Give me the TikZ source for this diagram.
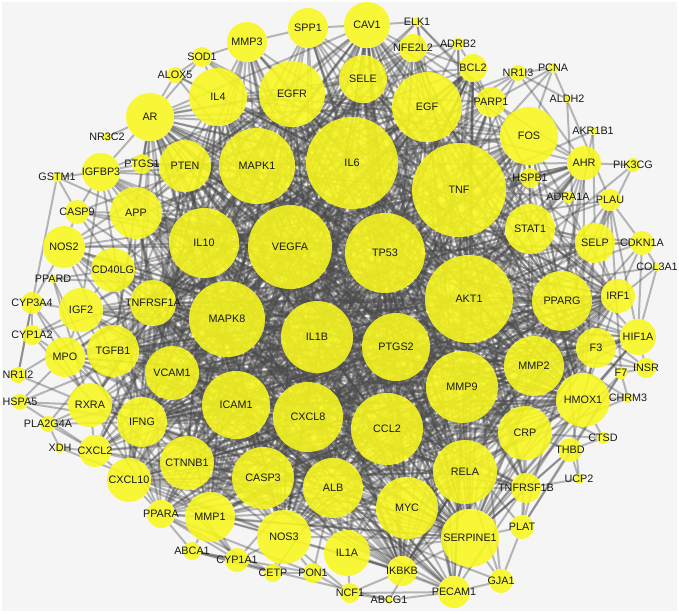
\documentclass[tikz,border=0pt]{standalone}
\usepackage{fontspec}
\setmainfont{Liberation Sans}
\pgfdeclarelayer{bgl}
\pgfdeclarelayer{edgel}
\pgfdeclarelayer{fgl}
\pgfsetlayers{bgl,edgel,main,fgl}
\definecolor{nodeY}{RGB}{248,248,30}
\definecolor{edgeG}{RGB}{75,75,75}
\definecolor{bgG}{RGB}{245,245,245}
\tikzset{
  gn/.style={circle,fill=nodeY,fill opacity=0.88,draw=none,inner sep=0pt},
  lab/.style={font=\fontsize{10.8}{12}\selectfont,text=black!90,inner sep=0pt},
  edge/.style={draw=edgeG,line width=2pt,opacity=0.38}
}
\newcommand\nd[4]{\node[gn,minimum size={2*#4pt}] (#1) at (#2,#3) {};
  \begin{pgfonlayer}{fgl}\node[lab] (#1l) at (#2,#3) {#1};\end{pgfonlayer}}
\def\Alist{IL6,TNF,AKT1,VEGFA,TP53,MAPK1,MAPK8,IL1B,MMP9,CCL2,EGF,IL10,CXCL8,PTGS2,ICAM1,EGFR}
\def\Blist{RELA,CASP3,MYC,ALB,PPARG,MMP2,FOS,IL4,SERPINE1,CRP,VCAM1,CTNNB1,NOS3,HMOX1,PTEN,APP,TGFB1,STAT1,IFNG,MMP1,AR,SELE,CAV1,TNFRSF1A}
\def\Clist{IL1A,CD40LG,IGF2,RXRA,CXCL10,NOS2,SPP1,MMP3,SELP,F3,MPO,IGFBP3,HIF1A,AHR,IRF1,CXCL2,PECAM1,PARP1,TNFRSF1B,IKBKB,BCL2,NFE2L2,PPARA}
\begin{document}
\begin{tikzpicture}[x=1pt,y=-1pt]
\useasboundingbox (0,0) rectangle (679,613);
\begin{pgfonlayer}{bgl}
\fill[white] (0,0) rectangle (679,613);
\fill[bgG] (2,2) rectangle (677,611);
\end{pgfonlayer}
% nodes
\nd{IL6}{352}{163}{46}
\nd{TNF}{459}{190}{47}
\nd{AKT1}{469}{299}{44}
\nd{VEGFA}{290}{247}{42}
\nd{TP53}{385}{253}{40}
\nd{MAPK1}{257}{166}{38}
\nd{MAPK8}{227}{319}{38}
\nd{IL1B}{317}{337}{36}
\nd{MMP9}{462}{387}{36}
\nd{CCL2}{387}{429}{36}
\nd{EGF}{427}{107}{35}
\nd{IL10}{204}{243}{35}
\nd{CXCL8}{308}{417}{35}
\nd{PTGS2}{396}{347}{34}
\nd{ICAM1}{236}{405}{34}
\nd{EGFR}{292}{94}{33}
\nd{RELA}{465}{472}{32}
\nd{CASP3}{263}{478}{31}
\nd{MYC}{407}{508}{31}
\nd{ALB}{333}{488}{30}
\nd{PPARG}{562}{301}{30}
\nd{MMP2}{534}{366}{30}
\nd{FOS}{529}{136}{29}
\nd{IL4}{218}{97}{29}
\nd{SERPINE1}{470}{538}{29}
\nd{CRP}{525}{433}{27}
\nd{VCAM1}{172}{373}{27}
\nd{CTNNB1}{187}{463}{27}
\nd{NOS3}{284}{537}{27}
\nd{HMOX1}{583}{400}{27}
\nd{PTEN}{185}{166}{26}
\nd{APP}{136}{213}{26}
\nd{TGFB1}{113}{351}{26}
\nd{STAT1}{530}{229}{25}
\nd{IFNG}{142}{422}{25}
\nd{MMP1}{210}{517}{25}
\nd{AR}{150}{117}{24}
\nd{SELE}{363}{79}{24}
\nd{CAV1}{367}{25}{23}
\nd{TNFRSF1A}{153}{303}{23}
\nd{IL1A}{347}{553}{23}
\nd{CD40LG}{113}{270}{22}
\nd{IGF2}{81}{310}{22}
\nd{RXRA}{90}{405}{22}
\nd{CXCL10}{129}{480}{22}
\nd{NOS2}{64}{247}{21}
\nd{SPP1}{308}{28}{20}
\nd{MMP3}{247}{42}{20}
\nd{SELP}{595}{243}{20}
\nd{F3}{596}{348}{20}
\nd{MPO}{65}{357}{20}
\nd{IGFBP3}{101}{172}{19}
\nd{HIF1A}{638}{337}{18}
\nd{AHR}{584}{163}{17}
\nd{IRF1}{618}{296}{17}
\nd{CXCL2}{95}{451}{16}
\nd{PECAM1}{454}{592}{16}
\nd{PARP1}{491}{102}{15}
\nd{TNFRSF1B}{526}{488}{15}
\nd{IKBKB}{402}{571}{15}
\nd{BCL2}{473}{68}{14}
\nd{NFE2L2}{413}{48}{14}
\nd{PPARA}{161}{514}{14}
\nd{CDKN1A}{642}{243}{12}
\nd{CASP9}{77}{212}{12}
\nd{PLAT}{522}{527}{12}
\nd{THBD}{570}{450}{12}
\nd{GJA1}{501}{581}{12}
\nd{CYP1A1}{237}{560}{12}
\nd{PLAU}{610}{200}{11}
\nd{CYP3A4}{32}{303}{11}
\nd{HSPB1}{530}{178}{10}
\nd{SOD1}{202}{57}{10}
\nd{PTGS1}{142}{164}{10}
\nd{INSR}{646}{368}{10}
\nd{CYP1A2}{32}{335}{10}
\nd{PON1}{313}{573}{10}
\nd{NCF1}{350}{593}{10}
\nd{ABCA1}{192}{551}{9}
\nd{CETP}{273}{573}{9}
\nd{ALOX5}{175}{75}{8}
\nd{NR1I3}{518}{73}{8}
\nd{NR1I2}{18}{375}{8}
\nd{HSPA5}{20}{402}{8}
\nd{PLA2G4A}{48}{424}{8}
\nd{PIK3CG}{633}{165}{7}
\nd{ADRB2}{458}{44}{6}
\nd{ADRA1A}{568}{197}{6}
\nd{F7}{621}{373}{6}
\nd{CTSD}{603}{438}{6}
\nd{ELK1}{417}{22}{5}
\nd{PCNA}{553}{68}{5}
\nd{GSTM1}{57}{177}{5}
\nd{XDH}{60}{448}{5}
\nd{CHRM3}{628}{398}{5}
\nd{UCP2}{579}{479}{5}
\nd{ALDH2}{567}{99}{4}
\nd{AKR1B1}{593}{131}{4}
\nd{NR3C2}{107}{137}{4}
\nd{PPARD}{53}{279}{4}
\nd{COL3A1}{657}{267}{4}
\nd{ABCG1}{389}{600}{4}
% edges
\begin{pgfonlayer}{edgel}
\foreach \a [count=\i] in \Alist {\foreach \b [count=\j] in \Alist {\ifnum\j>\i \draw[edge] (\a) -- (\b);\fi}}
\foreach \a in \Alist {\foreach \b in \Blist {\draw[edge] (\a) -- (\b);}}
\foreach \a [count=\i] in \Blist {\foreach \b [count=\j] in \Blist {\ifnum\j>\i
  \pgfmathtruncatemacro\m{mod(\i+2*\j,3)}\ifnum\m>0 \draw[edge] (\a) -- (\b);\fi\fi}}
\foreach \a [count=\i] in \Clist {\foreach \b [count=\j] in \Alist {
  \pgfmathtruncatemacro\m{mod(\i+\j,2)}\ifnum\m=0 \draw[edge] (\a) -- (\b);\fi}}
\foreach \a [count=\i] in \Clist {\foreach \b [count=\j] in \Blist {
  \pgfmathtruncatemacro\m{mod(\i*\j+\i,5)}\ifnum\m=0 \draw[edge] (\a) -- (\b);\fi}}
\foreach \a/\b in {SOD1/MMP3,SOD1/IL4,SOD1/AR,SOD1/IL6,SOD1/TNF,SOD1/HMOX1,
  ALOX5/SOD1,ALOX5/AR,ALOX5/IL4,ALOX5/PTGS2,ALOX5/IL6,NR3C2/AR,
  GSTM1/IGFBP3,GSTM1/CASP9,GSTM1/NR1I2,GSTM1/APP,
  PTGS1/AR,PTGS1/IGFBP3,PTGS1/PTEN,PTGS1/PTGS2,PTGS1/IL6,PTGS1/TNF,PTGS1/MAPK1,
  CASP9/AKT1,CASP9/TP53,CASP9/CASP3,CASP9/BCL2,CASP9/APP,CASP9/IGFBP3,CASP9/MAPK8,CASP9/NOS2,
  PPARD/PPARG,PPARD/PPARA,PPARD/RXRA,PPARD/CD40LG,
  CYP3A4/NR1I2,CYP3A4/CYP1A2,CYP3A4/IGF2,CYP3A4/NOS2,CYP3A4/RXRA,CYP3A4/CYP1A1,
  CYP1A2/CYP1A1,CYP1A2/AHR,CYP1A2/MPO,CYP1A2/IGF2,
  NR1I2/NR1I3,NR1I2/RXRA,HSPA5/RXRA,HSPA5/IFNG,HSPA5/CXCL2,HSPA5/MPO,HSPA5/TP53,
  PLA2G4A/RXRA,PLA2G4A/XDH,PLA2G4A/PTGS2,PLA2G4A/CXCL2,PLA2G4A/IFNG,PLA2G4A/MAPK1,
  XDH/CXCL2,XDH/NOS3,
  ELK1/EGF,ELK1/FOS,ELK1/MAPK1,ELK1/CAV1,ELK1/SELE,ELK1/PARP1,ELK1/AKT1,
  NFE2L2/HMOX1,NFE2L2/CAV1,NFE2L2/SELE,NFE2L2/EGF,NFE2L2/TNF,NFE2L2/IL6,NFE2L2/AKT1,NFE2L2/BCL2,
  ADRB2/BCL2,ADRB2/EGF,ADRB2/AKT1,ADRB2/MAPK1,ADRB2/NFE2L2,ADRB2/TNF,
  BCL2/TP53,BCL2/AKT1,BCL2/CASP3,BCL2/TNF,BCL2/IL6,BCL2/PARP1,BCL2/EGF,BCL2/MYC,BCL2/SELE,BCL2/VEGFA,
  NR1I3/PCNA,NR1I3/TNF,NR1I3/PARP1,NR1I3/EGF,NR1I3/AHR,
  PCNA/TP53,PCNA/PARP1,PCNA/FOS,PCNA/PLAU,ALDH2/NR1I3,ALDH2/HMOX1,
  AKR1B1/TNF,AKR1B1/PPARG,AKR1B1/SELP,PIK3CG/AHR,PIK3CG/AKT1,PIK3CG/SELP,
  ADRA1A/STAT1,ADRA1A/TNF,ADRA1A/HSPB1,ADRA1A/AHR,
  PLAU/PLAT,PLAU/SERPINE1,PLAU/STAT1,PLAU/CDKN1A,PLAU/SELP,PLAU/MMP9,PLAU/VEGFA,PLAU/F3,PLAU/HIF1A,
  HSPB1/TNF,HSPB1/AKT1,HSPB1/FOS,HSPB1/HMOX1,HSPB1/TP53,HSPB1/PARP1,HSPB1/CASP3,
  AHR/FOS,AHR/CYP1A1,AHR/HSPB1,AHR/NFE2L2,AHR/STAT1,AHR/PPARG,
  CDKN1A/SELP,CDKN1A/COL3A1,CDKN1A/TP53,CDKN1A/AKT1,CDKN1A/MYC,CDKN1A/HIF1A,CDKN1A/IRF1,CDKN1A/STAT1,
  COL3A1/HIF1A,COL3A1/MMP2,COL3A1/TGFB1,
  IRF1/STAT1,IRF1/PPARG,IRF1/SELP,IRF1/IFNG,
  HIF1A/HMOX1,HIF1A/F3,HIF1A/INSR,HIF1A/MMP2,
  F7/F3,F7/INSR,F7/THBD,F7/SERPINE1,F7/PLAT,F7/PLAU,
  INSR/AKT1,INSR/PPARG,INSR/IGF2,CHRM3/F7,CHRM3/HMOX1,CHRM3/NOS3,CHRM3/AKT1,
  CTSD/HMOX1,CTSD/THBD,CTSD/CRP,CTSD/APP,
  THBD/CRP,THBD/F3,THBD/TNFRSF1B,THBD/SERPINE1,THBD/PLAT,THBD/UCP2,
  UCP2/TNFRSF1B,UCP2/PPARG,
  TNFRSF1B/TNF,TNFRSF1B/CRP,TNFRSF1B/RELA,TNFRSF1B/PLAT,TNFRSF1B/SERPINE1,TNFRSF1B/TNFRSF1A,
  PLAT/SERPINE1,PLAT/CRP,PLAT/GJA1,PLAT/VEGFA,
  GJA1/SERPINE1,GJA1/PECAM1,GJA1/RELA,GJA1/TNF,GJA1/CTNNB1,
  PECAM1/IKBKB,PECAM1/SERPINE1,PECAM1/MYC,PECAM1/VCAM1,PECAM1/SELE,PECAM1/NCF1,PECAM1/ABCG1,PECAM1/IL1A,
  ABCG1/NCF1,ABCG1/PPARG,ABCG1/ABCA1,
  NCF1/IKBKB,NCF1/NOS3,NCF1/PON1,NCF1/IL1A,
  IKBKB/RELA,IKBKB/MYC,IKBKB/IL1A,
  PON1/NOS3,PON1/CETP,PON1/ALB,PON1/ABCA1,PON1/PPARA,
  CETP/ABCA1,CETP/CYP1A1,CETP/ALB,CETP/PPARA,CETP/NOS3,
  CYP1A1/ABCA1,CYP1A1/MMP1,CYP1A1/NOS3,CYP1A1/PPARA,
  ABCA1/PPARA,ABCA1/MMP1,
  PPARA/PPARG,PPARA/MMP1,PPARA/CXCL10,PPARA/CTNNB1,PPARA/RXRA,
  SPP1/MMP3,SPP1/CAV1,SPP1/SELE,MMP3/IL4,MMP3/MMP1,MMP3/MMP2,
  IGFBP3/AR,IGFBP3/IGF2,NOS2/NOS3,CXCL2/CXCL10,CXCL2/IFNG,CXCL2/RXRA,
  MPO/IGF2,MPO/RXRA,CD40LG/IGF2,SELP/STAT1,F3/HMOX1}
  {\draw[edge] (\a) -- (\b);}
\end{pgfonlayer}
\end{tikzpicture}
\end{document}
